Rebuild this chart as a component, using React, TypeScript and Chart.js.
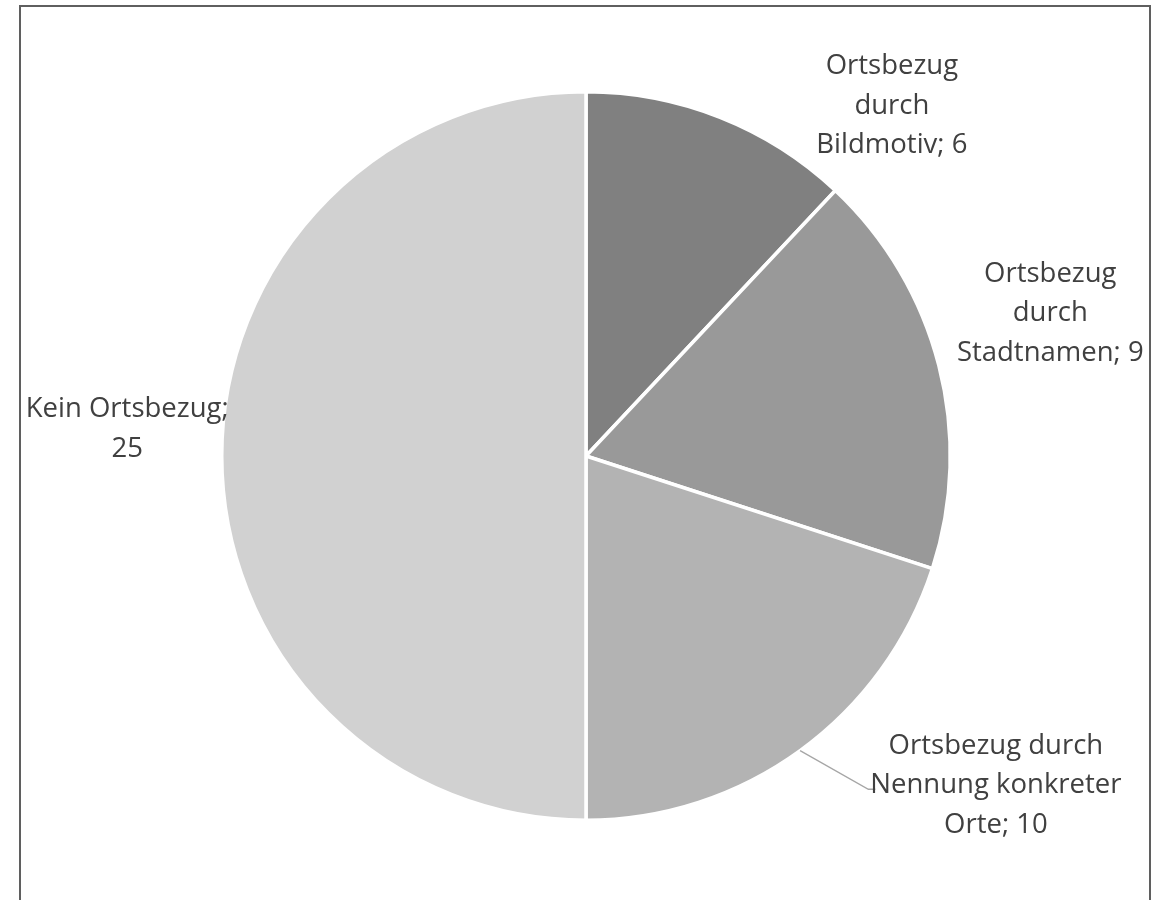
import React, { useEffect, useRef } from "react";
import { Chart, registerables } from "chart.js";

Chart.register(...registerables);

const categories = [
  ["Ortsbezug", "durch", "Bildmotiv; 6"],
  ["Ortsbezug", "durch", "Stadtnamen; 9"],
  ["Ortsbezug durch", "Nennung konkreter", "Orte; 10"],
  ["Kein Ortsbezug;", "25"],
];
const values = [6, 9, 10, 25];
const sliceColors = ["#808080", "#999999", "#b3b3b3", "#d1d1d1"];

// label placement: angle (deg, clockwise from top) and distance (in radii) of label block centre
const labelAngles = [41.0, 72.7, 128.6, -86.4];
const labelDistances = [1.28, 1.335, 1.44, 1.262];
const leaderLines = [false, false, true, false];

const FONT = "27.5px 'Open Sans'";
const LINE_H = 39.5;

const framePlugin = {
  id: "frame",
  beforeDraw(chart: any) {
    const ctx = chart.ctx;
    ctx.save();
    ctx.strokeStyle = "#5f5f5f";
    ctx.lineWidth = 2;
    ctx.beginPath();
    ctx.moveTo(20, 920);
    ctx.lineTo(20, 6);
    ctx.lineTo(1150, 6);
    ctx.lineTo(1150, 920);
    ctx.stroke();
    ctx.restore();
  },
};

const labelPlugin = {
  id: "sliceLabels",
  afterDraw(chart: any) {
    const ctx = chart.ctx;
    const meta = chart.getDatasetMeta(0);
    ctx.save();
    ctx.font = FONT;
    ctx.fillStyle = "#404040";
    ctx.textAlign = "center";
    ctx.textBaseline = "middle";
    meta.data.forEach((arc: any, i: number) => {
      const { x, y, outerRadius, startAngle, endAngle } = arc.getProps(
        ["x", "y", "outerRadius", "startAngle", "endAngle"],
        true
      );
      const a = (labelAngles[i] * Math.PI) / 180;
      const d = labelDistances[i] * outerRadius;
      const cx = x + Math.sin(a) * d;
      const cy = y - Math.cos(a) * d + 2;
      const lines = categories[i];
      const top = cy - ((lines.length - 1) * LINE_H) / 2;
      if (leaderLines[i]) {
        const mid = (startAngle + endAngle) / 2;
        const sx = x + Math.cos(mid) * outerRadius;
        const sy = y + Math.sin(mid) * outerRadius;
        const midLine = Math.floor(lines.length / 2);
        const w = ctx.measureText(lines[midLine]).width;
        const ex = cx - w / 2 + 5;
        const ey = top + midLine * LINE_H + 4;
        ctx.save();
        ctx.strokeStyle = "#a6a6a6";
        ctx.lineWidth = 1.3;
        ctx.beginPath();
        ctx.moveTo(sx, sy);
        ctx.lineTo(ex - 7, ey);
        ctx.lineTo(ex, ey);
        ctx.stroke();
        ctx.restore();
      }
      lines.forEach((t: string, j: number) => {
        ctx.fillText(t, cx, top + j * LINE_H);
      });
    });
    ctx.restore();
  },
};

export default function App() {
  const ref = useRef<HTMLCanvasElement | null>(null);
  useEffect(() => {
    document.body.style.margin = "0";
    const canvas = ref.current;
    if (!canvas) return;
    const chart = new Chart(canvas, {
      type: "pie",
      data: {
        labels: categories.map((c) => c.join(" ")),
        datasets: [
          {
            data: values,
            backgroundColor: sliceColors,
            borderColor: "#ffffff",
            borderWidth: 3.5,
          },
        ],
      },
      options: {
        responsive: false,
        animation: false,
        layout: { padding: { left: 220, right: 206, top: 90, bottom: 78 } },
        plugins: {
          legend: { display: false },
          tooltip: { enabled: false },
        },
      },
      plugins: [framePlugin, labelPlugin],
    });
    return () => chart.destroy();
  }, []);
  return (
    <div style={{ width: 1158, height: 900, background: "#fff" }}>
      <canvas ref={ref} width={1158} height={900} style={{ display: "block" }} />
    </div>
  );
}
